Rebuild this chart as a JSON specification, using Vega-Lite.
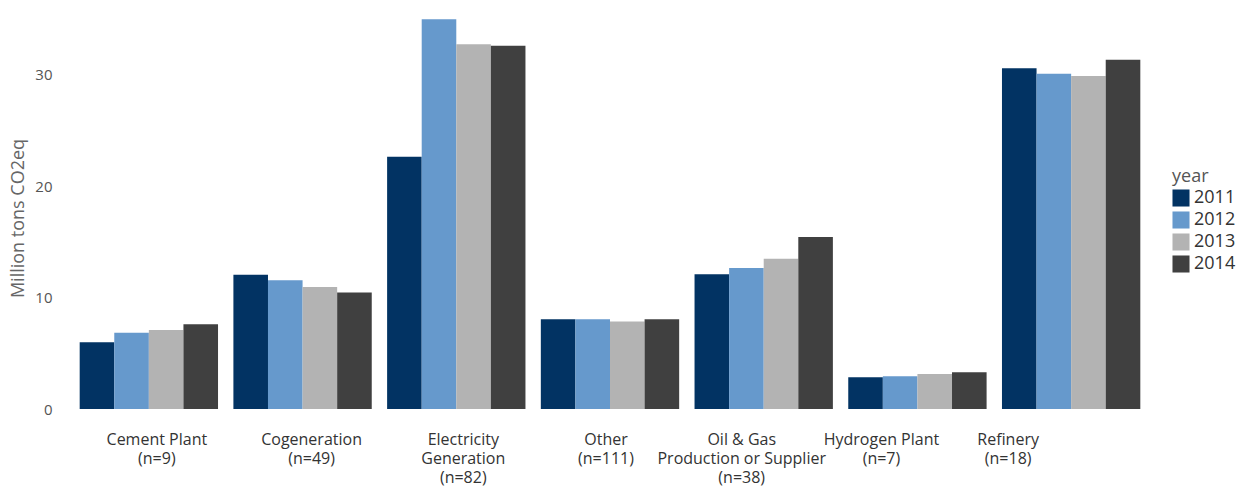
{
  "$schema": "https://vega.github.io/schema/vega-lite/v6.json",
  "autosize": {"type": "none"},
  "padding": {"left": 72, "top": 8, "right": 98, "bottom": 82},
  "width": 1076,
  "height": 401,
  "background": "white",
  "config": {
    "view": {"stroke": null},
    "font": "Open Sans"
  },
  "data": {
    "values": [
      {"sector": "Cement Plant|(n=9)", "year": "2011", "value": 6.0},
      {"sector": "Cement Plant|(n=9)", "year": "2012", "value": 6.85},
      {"sector": "Cement Plant|(n=9)", "year": "2013", "value": 7.1},
      {"sector": "Cement Plant|(n=9)", "year": "2014", "value": 7.6},
      {"sector": "Cogeneration|(n=49)", "year": "2011", "value": 12.05},
      {"sector": "Cogeneration|(n=49)", "year": "2012", "value": 11.55},
      {"sector": "Cogeneration|(n=49)", "year": "2013", "value": 10.95},
      {"sector": "Cogeneration|(n=49)", "year": "2014", "value": 10.45},
      {"sector": "Electricity|Generation|(n=82)", "year": "2011", "value": 22.65},
      {"sector": "Electricity|Generation|(n=82)", "year": "2012", "value": 35.0},
      {"sector": "Electricity|Generation|(n=82)", "year": "2013", "value": 32.75},
      {"sector": "Electricity|Generation|(n=82)", "year": "2014", "value": 32.6},
      {"sector": "Other|(n=111)", "year": "2011", "value": 8.05},
      {"sector": "Other|(n=111)", "year": "2012", "value": 8.05},
      {"sector": "Other|(n=111)", "year": "2013", "value": 7.85},
      {"sector": "Other|(n=111)", "year": "2014", "value": 8.05},
      {"sector": "Oil & Gas|Production or Supplier|(n=38)", "year": "2011", "value": 12.1},
      {"sector": "Oil & Gas|Production or Supplier|(n=38)", "year": "2012", "value": 12.65},
      {"sector": "Oil & Gas|Production or Supplier|(n=38)", "year": "2013", "value": 13.5},
      {"sector": "Oil & Gas|Production or Supplier|(n=38)", "year": "2014", "value": 15.45},
      {"sector": "Hydrogen Plant|(n=7)", "year": "2011", "value": 2.85},
      {"sector": "Hydrogen Plant|(n=7)", "year": "2012", "value": 2.95},
      {"sector": "Hydrogen Plant|(n=7)", "year": "2013", "value": 3.15},
      {"sector": "Hydrogen Plant|(n=7)", "year": "2014", "value": 3.3},
      {"sector": "Refinery|(n=18)", "year": "2011", "value": 30.6},
      {"sector": "Refinery|(n=18)", "year": "2012", "value": 30.1},
      {"sector": "Refinery|(n=18)", "year": "2013", "value": 29.9},
      {"sector": "Refinery|(n=18)", "year": "2014", "value": 31.35}
    ]
  },
  "mark": {"type": "bar", "strokeWidth": 0},
  "encoding": {
    "x": {
      "field": "sector",
      "type": "nominal",
      "sort": [
        "Cement Plant|(n=9)",
        "Cogeneration|(n=49)",
        "Electricity|Generation|(n=82)",
        "Other|(n=111)",
        "Oil & Gas|Production or Supplier|(n=38)",
        "Hydrogen Plant|(n=7)",
        "Refinery|(n=18)"
      ],
      "scale": {"paddingInner": 0.1, "paddingOuter": 0.05},
      "axis": {
        "title": null,
        "domain": false,
        "ticks": false,
        "tickSize": 0,
        "labelAngle": 0,
        "labelPadding": 22,
        "labelBaseline": "top",
        "labelFontSize": 16,
        "labelLineHeight": 19,
        "labelColor": "#333333",
        "labelExpr": "split(datum.label, '|')",
        "labelOffset": {
          "condition": [
            {"test": "indexof(datum.value, 'Cement') == 0", "value": 8},
            {"test": "indexof(datum.value, 'Cogeneration') == 0", "value": 9},
            {"test": "indexof(datum.value, 'Electricity') == 0", "value": 7},
            {"test": "indexof(datum.value, 'Other') == 0", "value": -4},
            {"test": "indexof(datum.value, 'Oil') == 0", "value": -22},
            {"test": "indexof(datum.value, 'Hydrogen') == 0", "value": -36},
            {"test": "indexof(datum.value, 'Refinery') == 0", "value": -63}
          ],
          "value": 0
        }
      }
    },
    "xOffset": {"field": "year", "type": "nominal", "sort": ["2011", "2012", "2013", "2014"]},
    "y": {
      "field": "value",
      "type": "quantitative",
      "scale": {"domain": [0, 36], "nice": false},
      "axis": {
        "title": "Million tons CO2eq",
        "values": [0, 10, 20, 30],
        "domain": false,
        "ticks": false,
        "tickSize": 0,
        "grid": false,
        "labelPadding": 20,
        "labelFontSize": 15,
        "labelColor": "#555555",
        "titleFontSize": 18,
        "titleFontWeight": "normal",
        "titleColor": "#666666",
        "titlePadding": 7,
        "titleY": 210
      }
    },
    "color": {
      "field": "year",
      "type": "nominal",
      "scale": {
        "domain": ["2011", "2012", "2013", "2014"],
        "range": ["#023363", "#6699CC", "#B3B3B3", "#404040"]
      },
      "legend": {
        "title": "year",
        "orient": "none",
        "legendX": 1100,
        "legendY": 160,
        "titleFontSize": 18,
        "titleFontWeight": "normal",
        "titleColor": "#555555",
        "titlePadding": 3,
        "symbolType": "square",
        "symbolSize": 290,
        "symbolStrokeWidth": 0,
        "symbolOpacity": 1,
        "labelFontSize": 18,
        "labelColor": "#333333",
        "labelOffset": 4,
        "rowPadding": 4
      }
    }
  }
}
